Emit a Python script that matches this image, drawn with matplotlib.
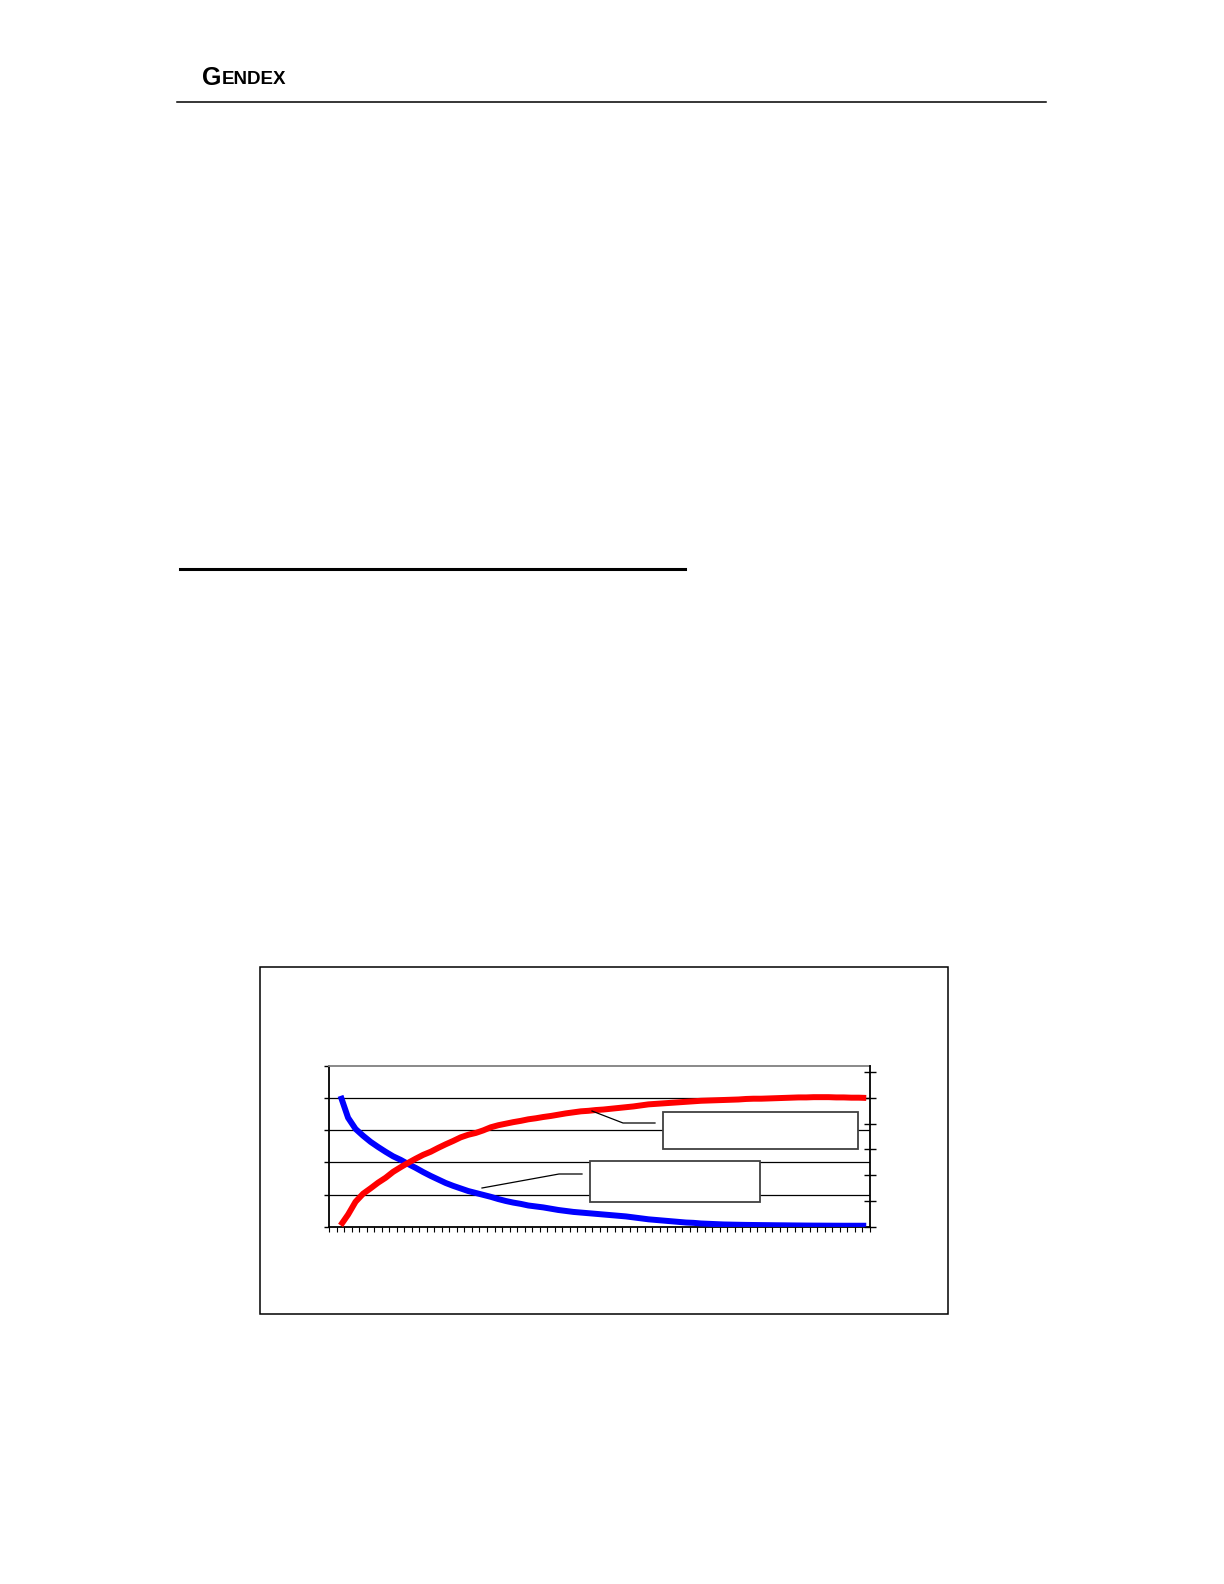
import numpy as np
import matplotlib.pyplot as plt
from matplotlib.patches import Rectangle

# categories along the x axis (72 slots, first one left empty)
n_cat = 72
categories = np.arange(1, n_cat + 1)

# blue curve, left axis (0..5)
blue_vals = [None,
    4.07, 3.39, 3.04, 2.83, 2.64, 2.48, 2.33, 2.19, 2.08, 1.95,
    1.83, 1.70, 1.58, 1.47, 1.36, 1.27, 1.19, 1.11, 1.05, 0.99,
    0.93, 0.86, 0.80, 0.75, 0.71, 0.66, 0.63, 0.60, 0.56, 0.52,
    0.49, 0.46, 0.44, 0.42, 0.40, 0.38, 0.36, 0.34, 0.32, 0.29,
    0.26, 0.23, 0.21, 0.19, 0.17, 0.15, 0.13, 0.12, 0.10, 0.09,
    0.08, 0.07, 0.065, 0.06, 0.056, 0.053, 0.05, 0.048, 0.045, 0.043,
    0.04, 0.038, 0.036, 0.034, 0.033, 0.032, 0.031, 0.03, 0.03, 0.03, 0.03]

# red curve, right axis (0..6)
red_vals = [None,
    0.05, 0.47, 0.97, 1.28, 1.49, 1.71, 1.90, 2.13, 2.31, 2.48,
    2.64, 2.79, 2.91, 3.06, 3.20, 3.33, 3.47, 3.57, 3.64, 3.74,
    3.86, 3.94, 4.00, 4.06, 4.11, 4.17, 4.21, 4.26, 4.30, 4.35,
    4.40, 4.44, 4.48, 4.50, 4.53, 4.55, 4.58, 4.61, 4.64, 4.67,
    4.71, 4.75, 4.77, 4.79, 4.81, 4.83, 4.85, 4.87, 4.89, 4.90,
    4.91, 4.92, 4.93, 4.94, 4.96, 4.97, 4.97, 4.98, 4.99, 5.00,
    5.01, 5.02, 5.02, 5.03, 5.03, 5.03, 5.02, 5.02, 5.01, 5.01, 5.00]

left_ticks = [0, 1, 2, 3, 4, 5]
right_ticks = [0, 1, 2, 3, 4, 5, 6]

W, H = 1224, 1584
fig = plt.figure(figsize=(W / 100, H / 100), dpi=100)
fig.patch.set_facecolor("white")

# plot area (pixel box 329..870 x 1066..1227)
px_l, px_r, px_t, px_b = 329.3, 870.0, 1066.0, 1226.7
ax = fig.add_axes([px_l / W, 1 - px_b / H, (px_r - px_l) / W, (px_b - px_t) / H])
ax.set_xlim(0.5, n_cat + 0.5)
ax.set_ylim(0, 5)
ax.set_yticks(left_ticks)
ax.set_yticklabels([])
ax.set_xticks(np.arange(0.5, n_cat + 1, 1))
ax.set_xticklabels([])
ax.tick_params(axis="y", direction="out", length=3.5, width=1, color="black")
ax.tick_params(axis="x", direction="out", length=3.5, width=0.8, color="black")
for v in left_ticks[1:-1]:
    ax.axhline(v, color="black", lw=0.9, zorder=1)
ax.spines["left"].set_color("black")
ax.spines["bottom"].set_color("black")
ax.spines["top"].set_color("#808080")
ax.spines["right"].set_visible(False)
for s in ["left", "bottom", "top"]:
    ax.spines[s].set_linewidth(1.3)

blue = np.array([np.nan if v is None else v for v in blue_vals], dtype=float)
ax.plot(categories, blue, color="#0000FF", lw=4.3, solid_capstyle="butt",
        solid_joinstyle="round", zorder=3)

ax2 = ax.twinx()
ax2.set_ylim(0, 6.24)
ax2.set_yticks(right_ticks)
ax2.set_yticklabels([])
ax2.tick_params(axis="y", direction="inout", length=8, width=1, color="black")
ax2.spines["right"].set_color("black")
ax2.spines["right"].set_linewidth(1.3)
for s in ["left", "bottom", "top"]:
    ax2.spines[s].set_visible(False)
red = np.array([np.nan if v is None else v for v in red_vals], dtype=float)
ax2.plot(categories, red, color="#FF0000", lw=4.3, solid_capstyle="butt",
         solid_joinstyle="round", zorder=3)

# page overlay in pixel coordinates
ov = fig.add_axes([0, 0, 1, 1], zorder=10)
ov.set_xlim(0, W)
ov.set_ylim(H, 0)
ov.axis("off")
ov.patch.set_alpha(0)

# header logo + rule
ov.text(202, 85, "G", fontsize=18, fontweight="bold", family="Liberation Sans",
        va="baseline", ha="left")
ov.text(222, 84, "ENDEX", fontsize=13.5, fontweight="bold", family="Liberation Sans",
        va="baseline", ha="left")
ov.plot([177, 1046], [102, 102], color="black", lw=1.1)

# section underline
ov.plot([180, 685], [569, 569], color="black", lw=2.2)

# chart frame
ov.add_patch(Rectangle((259.5, 966.5), 948 - 259.5, 1314 - 966.5, fill=False,
                       edgecolor="black", lw=1.1))

# label boxes with leaders
ov.add_patch(Rectangle((663, 1112), 858 - 663, 1149 - 1112, facecolor="white",
                       edgecolor="#404040", lw=1.3))
ov.plot([592, 623, 655], [1111, 1123, 1123], color="black", lw=0.9)
ov.add_patch(Rectangle((590, 1161), 760 - 590, 1202 - 1161, facecolor="white",
                       edgecolor="#404040", lw=1.3))
ov.plot([482, 559, 582], [1188, 1174, 1174], color="black", lw=0.9)

fig.savefig("out.png", dpi=100, facecolor="white")
